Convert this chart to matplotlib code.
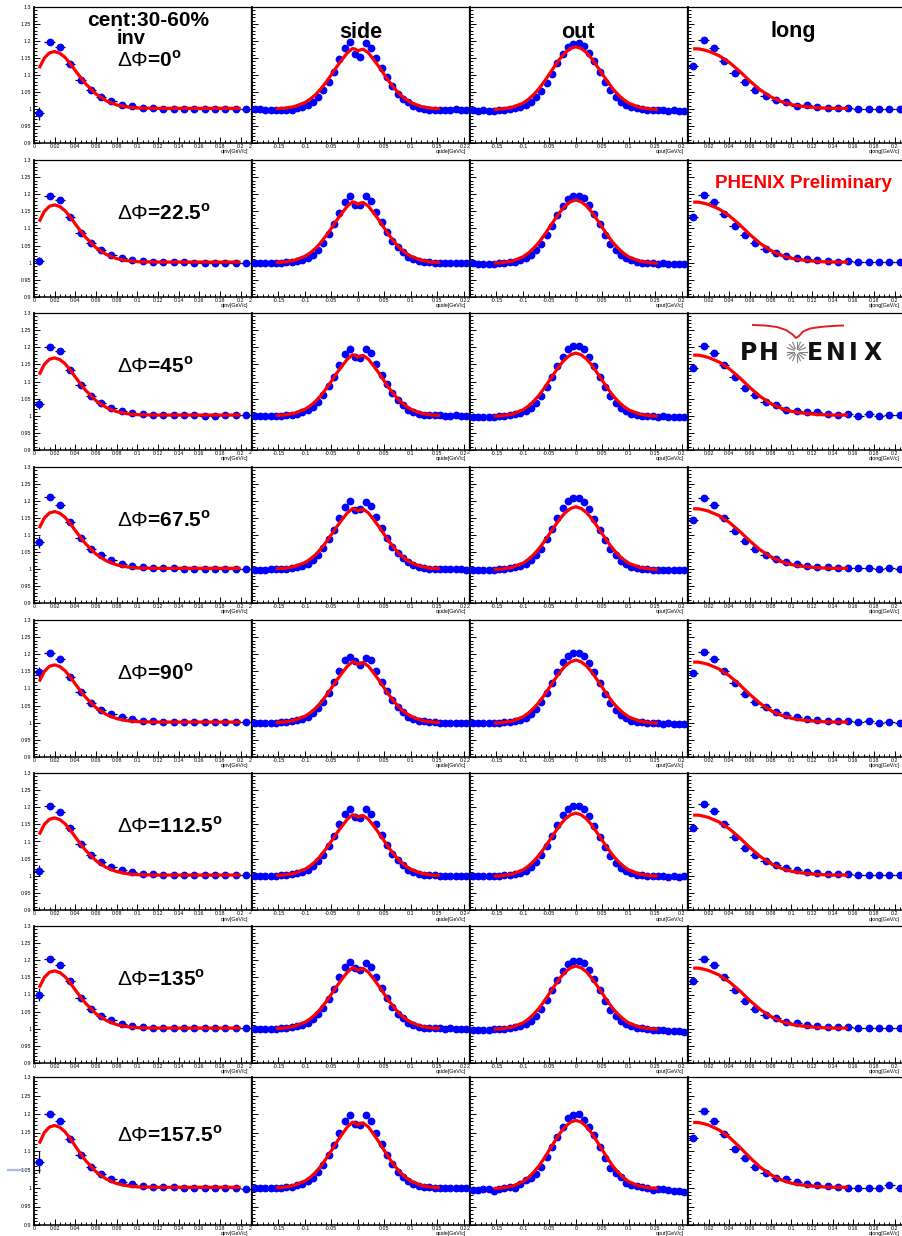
import matplotlib
matplotlib.use('Agg')
import matplotlib.pyplot as plt
from matplotlib.ticker import MultipleLocator, FixedLocator, NullFormatter
from matplotlib.lines import Line2D
import math

plt.rcParams['font.family'] = ['Liberation Sans', 'DejaVu Sans']
plt.rcParams['mathtext.fontset'] = 'custom'
plt.rcParams['mathtext.rm'] = 'Liberation Sans'
plt.rcParams['mathtext.bf'] = 'Liberation Sans:bold'

# ---------------- data ----------------
dphi_labels = ['0', '22.5', '45', '67.5', '90', '112.5', '135', '157.5']
col_names = ['inv', 'side', 'out', 'long']
x_titles = ['qinv[GeV/c]', 'qside[GeV/c]', 'qout[GeV/c]', 'qlong[GeV/c]']

q_pos = [0.005, 0.015, 0.025, 0.035, 0.045, 0.055, 0.065, 0.075, 0.085, 0.095, 0.105,
         0.115, 0.125, 0.135, 0.145, 0.155, 0.165, 0.175, 0.185, 0.195, 0.205]
q_sym = [-0.195, -0.185, -0.175, -0.165, -0.155, -0.145, -0.135, -0.125, -0.115, -0.105,
         -0.095, -0.085, -0.075, -0.065, -0.055, -0.045, -0.035, -0.025, -0.015, -0.005,
         0.005, 0.015, 0.025, 0.035, 0.045, 0.055, 0.065, 0.075, 0.085, 0.095, 0.105,
         0.115, 0.125, 0.135, 0.145, 0.155, 0.165, 0.175, 0.185, 0.195, 0.205]
bin_half_width = 0.005

inv_rows = [
    [0.987, 1.196, 1.181, 1.132, 1.085, 1.056, 1.036, 1.024, 1.013, 1.008, 1.004, 1.002, 1.001, 1.001, 1.000, 1.000, 1.000, 1.000, 1.001, 1.001, 1.001],
    [1.005, 1.194, 1.182, 1.133, 1.088, 1.058, 1.036, 1.023, 1.014, 1.008, 1.005, 1.003, 1.002, 1.001, 1.001, 1.000, 1.000, 1.000, 1.000, 1.000, 1.000],
    [1.035, 1.200, 1.188, 1.135, 1.090, 1.058, 1.038, 1.024, 1.015, 1.009, 1.005, 1.003, 1.002, 1.001, 1.001, 1.001, 1.000, 1.000, 1.001, 1.001, 1.001],
    [1.080, 1.212, 1.188, 1.138, 1.092, 1.060, 1.040, 1.027, 1.016, 1.010, 1.006, 1.004, 1.002, 1.002, 1.001, 1.001, 1.001, 1.000, 1.001, 1.001, 1.001],
    [1.147, 1.205, 1.185, 1.135, 1.090, 1.058, 1.038, 1.025, 1.016, 1.010, 1.006, 1.004, 1.002, 1.002, 1.001, 1.001, 1.001, 1.001, 1.001, 1.001, 1.001],
    [1.015, 1.203, 1.185, 1.138, 1.092, 1.060, 1.040, 1.026, 1.016, 1.010, 1.006, 1.004, 1.003, 1.002, 1.002, 1.001, 1.001, 1.001, 1.001, 1.001, 1.001],
    [1.100, 1.205, 1.185, 1.138, 1.090, 1.058, 1.038, 1.025, 1.015, 1.009, 1.005, 1.003, 1.002, 1.001, 1.001, 1.001, 1.001, 1.001, 1.001, 1.001, 1.001],
    [1.070, 1.200, 1.182, 1.132, 1.088, 1.057, 1.037, 1.024, 1.016, 1.010, 1.006, 1.004, 1.003, 1.002, 1.001, 1.001, 1.000, 1.001, 1.001, 1.001, 0.998],
]
inv_first_err = [0.020, 0.012, 0.015, 0.018, 0.015, 0.015, 0.018, 0.030]
inv_err_rest = [0.004, 0.003, 0.003, 0.003, 0.002, 0.002, 0.002, 0.002, 0.002, 0.002,
                0.002, 0.002, 0.002, 0.002, 0.002, 0.002, 0.002, 0.002, 0.002, 0.002]

side_rows = [
    [1.000, 1.000, 0.998, 0.998, 0.998, 0.996, 0.996, 0.998, 1.002, 1.006, 1.012, 1.022, 1.035, 1.055, 1.080, 1.110, 1.148, 1.178, 1.196, 1.162,
     1.152, 1.194, 1.178, 1.150, 1.122, 1.095, 1.068, 1.045, 1.030, 1.020, 1.010, 1.004, 1.000, 0.998, 0.997, 0.997, 0.998, 0.998, 0.999, 0.998, 0.996],
    [0.999, 0.998, 0.998, 0.999, 1.000, 1.000, 1.002, 1.003, 1.005, 1.008, 1.014, 1.024, 1.038, 1.058, 1.084, 1.112, 1.146, 1.176, 1.195, 1.170,
     1.168, 1.196, 1.180, 1.148, 1.118, 1.090, 1.064, 1.045, 1.030, 1.018, 1.010, 1.005, 1.002, 1.001, 1.000, 1.000, 0.999, 1.000, 1.000, 0.999, 0.999],
    [0.999, 0.999, 0.998, 0.999, 1.000, 1.000, 1.001, 1.003, 1.006, 1.010, 1.016, 1.026, 1.040, 1.060, 1.086, 1.114, 1.148, 1.180, 1.196, 1.172,
     1.170, 1.195, 1.182, 1.150, 1.118, 1.092, 1.066, 1.046, 1.030, 1.018, 1.010, 1.005, 1.003, 1.002, 1.001, 1.001, 1.000, 1.000, 1.001, 1.000, 0.999],
    [0.998, 0.998, 0.998, 0.999, 1.000, 0.999, 1.001, 1.003, 1.006, 1.010, 1.016, 1.026, 1.040, 1.062, 1.088, 1.116, 1.150, 1.182, 1.200, 1.175,
     1.176, 1.198, 1.184, 1.152, 1.120, 1.092, 1.066, 1.046, 1.031, 1.020, 1.012, 1.006, 1.003, 1.001, 1.000, 1.000, 0.999, 0.999, 1.000, 0.999, 0.998],
    [0.998, 0.999, 0.999, 0.999, 1.000, 1.001, 1.002, 1.004, 1.007, 1.011, 1.018, 1.028, 1.042, 1.062, 1.088, 1.118, 1.152, 1.182, 1.192, 1.180,
     1.170, 1.190, 1.182, 1.152, 1.120, 1.092, 1.066, 1.046, 1.030, 1.018, 1.010, 1.006, 1.004, 1.002, 1.001, 1.000, 1.000, 0.999, 0.999, 0.998, 0.998],
    [1.000, 1.000, 0.999, 1.000, 1.000, 1.001, 1.002, 1.004, 1.007, 1.011, 1.018, 1.028, 1.042, 1.062, 1.088, 1.116, 1.150, 1.180, 1.196, 1.172,
     1.170, 1.196, 1.180, 1.150, 1.118, 1.090, 1.064, 1.046, 1.030, 1.018, 1.010, 1.006, 1.003, 1.002, 1.001, 1.000, 1.000, 0.999, 0.999, 0.999, 0.999],
    [0.999, 0.999, 0.999, 1.000, 1.000, 1.001, 1.002, 1.004, 1.007, 1.011, 1.018, 1.028, 1.042, 1.062, 1.088, 1.116, 1.150, 1.180, 1.194, 1.176,
     1.172, 1.192, 1.180, 1.150, 1.118, 1.090, 1.064, 1.044, 1.030, 1.018, 1.010, 1.005, 1.003, 1.002, 1.001, 1.003, 1.000, 1.002, 1.000, 0.999, 0.999],
    [1.001, 1.001, 1.000, 1.000, 1.000, 1.001, 1.002, 1.004, 1.007, 1.011, 1.018, 1.028, 1.042, 1.062, 1.088, 1.116, 1.150, 1.180, 1.196, 1.172,
     1.170, 1.196, 1.180, 1.150, 1.118, 1.090, 1.064, 1.044, 1.030, 1.018, 1.010, 1.005, 1.003, 1.002, 1.001, 1.000, 1.000, 1.001, 1.001, 1.000, 1.000],
]

out_rows = [
    [0.996, 0.995, 0.996, 0.994, 0.995, 0.997, 0.998, 1.000, 1.002, 1.006, 1.012, 1.020, 1.034, 1.052, 1.076, 1.104, 1.134, 1.162, 1.182, 1.192,
     1.194, 1.186, 1.166, 1.140, 1.110, 1.080, 1.055, 1.036, 1.022, 1.012, 1.006, 1.002, 1.000, 0.998, 0.997, 0.996, 0.996, 0.995, 0.996, 0.995, 0.994],
    [0.998, 0.997, 0.996, 0.997, 0.996, 0.998, 0.999, 1.001, 1.003, 1.007, 1.013, 1.022, 1.036, 1.055, 1.080, 1.108, 1.138, 1.166, 1.186, 1.196,
     1.196, 1.188, 1.168, 1.142, 1.112, 1.082, 1.056, 1.038, 1.024, 1.014, 1.007, 1.003, 1.000, 0.999, 0.998, 0.997, 0.998, 0.996, 0.997, 0.996, 0.996],
    [0.997, 0.996, 0.996, 0.995, 0.996, 0.998, 1.000, 1.002, 1.004, 1.008, 1.014, 1.024, 1.038, 1.058, 1.084, 1.112, 1.144, 1.172, 1.194, 1.205,
     1.203, 1.194, 1.172, 1.146, 1.114, 1.084, 1.058, 1.038, 1.024, 1.013, 1.006, 1.002, 1.000, 0.999, 0.998, 0.997, 0.998, 0.997, 0.996, 0.997, 0.997],
    [0.998, 0.997, 0.997, 0.996, 0.998, 0.999, 1.000, 1.002, 1.005, 1.009, 1.016, 1.026, 1.040, 1.060, 1.088, 1.118, 1.150, 1.178, 1.200, 1.210,
     1.210, 1.198, 1.176, 1.148, 1.116, 1.086, 1.060, 1.040, 1.025, 1.014, 1.007, 1.003, 1.001, 0.999, 0.998, 0.998, 0.997, 0.997, 0.997, 0.996, 0.996],
    [0.999, 0.999, 0.999, 0.998, 0.999, 1.000, 1.001, 1.002, 1.004, 1.008, 1.015, 1.025, 1.040, 1.060, 1.086, 1.116, 1.148, 1.176, 1.196, 1.205,
     1.204, 1.196, 1.175, 1.148, 1.116, 1.085, 1.058, 1.038, 1.024, 1.013, 1.006, 1.003, 1.001, 0.999, 0.998, 0.998, 0.997, 0.998, 0.997, 0.997, 0.997],
    [1.000, 0.999, 0.999, 1.000, 0.999, 1.000, 1.001, 1.003, 1.005, 1.009, 1.015, 1.025, 1.040, 1.060, 1.086, 1.116, 1.148, 1.176, 1.196, 1.204,
     1.203, 1.195, 1.174, 1.146, 1.114, 1.084, 1.058, 1.038, 1.024, 1.014, 1.007, 1.003, 1.002, 1.000, 0.999, 0.998, 0.998, 0.997, 0.998, 0.997, 0.998],
    [0.997, 0.996, 0.997, 0.996, 0.998, 0.999, 1.000, 1.002, 1.004, 1.008, 1.014, 1.024, 1.038, 1.058, 1.084, 1.112, 1.142, 1.170, 1.190, 1.198,
     1.198, 1.192, 1.172, 1.144, 1.112, 1.082, 1.056, 1.038, 1.024, 1.014, 1.007, 1.003, 1.001, 0.999, 0.997, 0.996, 0.995, 0.994, 0.993, 0.992, 0.991],
    [0.995, 0.994, 0.996, 0.998, 0.992, 0.998, 1.000, 1.003, 1.000, 1.010, 1.021, 1.027, 1.039, 1.058, 1.083, 1.110, 1.139, 1.164, 1.189, 1.197,
     1.200, 1.184, 1.164, 1.144, 1.110, 1.082, 1.055, 1.041, 1.030, 1.014, 1.007, 1.005, 1.003, 1.001, 0.994, 0.996, 0.996, 0.994, 0.992, 0.991, 0.990],
]

long_rows = [
    [1.127, 1.203, 1.179, 1.141, 1.107, 1.078, 1.056, 1.038, 1.026, 1.021, 1.008, 1.013, 1.006, 1.004, 1.003, 1.004, 1.001, 1.000, 1.001, 1.000, 1.000],
    [1.135, 1.198, 1.178, 1.142, 1.108, 1.080, 1.058, 1.040, 1.028, 1.020, 1.014, 1.010, 1.007, 1.005, 1.003, 1.004, 1.002, 1.003, 1.001, 1.002, 1.001],
    [1.140, 1.205, 1.182, 1.148, 1.112, 1.082, 1.060, 1.041, 1.030, 1.018, 1.015, 1.010, 1.010, 1.005, 1.003, 1.006, 1.000, 1.004, 1.000, 1.001, 1.001],
    [1.145, 1.210, 1.188, 1.150, 1.113, 1.082, 1.060, 1.042, 1.030, 1.022, 1.014, 1.010, 1.007, 1.005, 1.004, 1.004, 1.003, 1.002, 1.001, 1.002, 1.000],
    [1.145, 1.208, 1.185, 1.150, 1.115, 1.085, 1.062, 1.045, 1.032, 1.022, 1.016, 1.012, 1.008, 1.006, 1.004, 1.005, 1.002, 1.006, 1.000, 1.003, 1.000],
    [1.140, 1.210, 1.190, 1.150, 1.112, 1.082, 1.060, 1.043, 1.030, 1.022, 1.016, 1.011, 1.007, 1.005, 1.004, 1.004, 1.003, 1.002, 1.002, 1.002, 1.001],
    [1.140, 1.205, 1.185, 1.150, 1.112, 1.080, 1.058, 1.040, 1.030, 1.020, 1.016, 1.010, 1.008, 1.006, 1.004, 1.004, 1.003, 1.002, 1.001, 1.002, 1.002],
    [1.135, 1.207, 1.180, 1.146, 1.106, 1.082, 1.058, 1.040, 1.028, 1.023, 1.016, 1.012, 1.009, 1.005, 1.003, 1.001, 1.000, 1.000, 1.000, 1.009, 1.000],
]
small_err = 0.003

# fit curves
inv_fit_q = [0.005, 0.01, 0.015, 0.02, 0.025, 0.03, 0.035, 0.04, 0.045, 0.05, 0.06, 0.07, 0.08, 0.09, 0.1, 0.12, 0.15, 0.2]
inv_fit = [1.120, 1.150, 1.165, 1.169, 1.164, 1.152, 1.134, 1.113, 1.093, 1.074, 1.044, 1.024, 1.012, 1.006, 1.003, 1.002, 1.002, 1.002]
side_fit_q = [-0.155, -0.14, -0.12, -0.1, -0.09, -0.08, -0.07, -0.06, -0.05, -0.04, -0.03, -0.02, -0.01, -0.005, 0, 0.005, 0.01,
              0.02, 0.03, 0.04, 0.05, 0.06, 0.07, 0.08, 0.09, 0.1, 0.12, 0.14, 0.155]
side_fit = [1.001, 1.002, 1.007, 1.019, 1.029, 1.042, 1.059, 1.079, 1.101, 1.124, 1.145, 1.165, 1.178, 1.176, 1.171, 1.174, 1.176,
            1.165, 1.145, 1.124, 1.101, 1.079, 1.059, 1.042, 1.029, 1.019, 1.007, 1.002, 1.001]
out_fit_q = [-0.155, -0.14, -0.12, -0.1, -0.09, -0.08, -0.07, -0.06, -0.05, -0.04, -0.03, -0.02, -0.01, 0, 0.01,
             0.02, 0.03, 0.04, 0.05, 0.06, 0.07, 0.08, 0.09, 0.1, 0.12, 0.14, 0.155]
out_fit = [0.999, 1.000, 1.005, 1.017, 1.028, 1.042, 1.059, 1.080, 1.103, 1.126, 1.148, 1.166, 1.178, 1.183, 1.178,
           1.166, 1.148, 1.126, 1.103, 1.080, 1.059, 1.042, 1.028, 1.017, 1.005, 1.000, 0.999]
long_fit_q = [0.005, 0.01, 0.015, 0.02, 0.03, 0.04, 0.05, 0.06, 0.07, 0.08, 0.09, 0.1, 0.11, 0.12, 0.13, 0.14, 0.155]
long_fit = [1.177, 1.177, 1.174, 1.170, 1.157, 1.137, 1.111, 1.082, 1.056, 1.036, 1.022, 1.013, 1.008, 1.005, 1.003, 1.002, 1.002]

y_ticks = [0.9, 0.95, 1.0, 1.05, 1.1, 1.15, 1.2, 1.25, 1.3]
y_ticklabels = ['0.9', '0.95', '1', '1.05', '1.1', '1.15', '1.2', '1.25', '1.3']
pos_ticks = [0, 0.02, 0.04, 0.06, 0.08, 0.1, 0.12, 0.14, 0.16, 0.18, 0.2]
pos_ticklabels = ['0', '0.02', '0.04', '0.06', '0.08', '0.1', '0.12', '0.14', '0.16', '0.18', '0.2']
sym_ticks = [-0.2, -0.15, -0.1, -0.05, 0, 0.05, 0.1, 0.15, 0.2]
sym_ticklabels = ['', '-0.15', '-0.1', '-0.05', '0', '0.05', '0.1', '0.15', '0.2']

# ---------------- layout (pixels) ----------------
W, H = 902, 1236
col_left = [34, 252, 470, 688]
col_right = [251, 469, 687, 905]
row_top = [7, 160, 313, 467, 620, 773, 926, 1077]
row_bot = [143, 297, 450, 603, 757, 910, 1063, 1225]

fig = plt.figure(figsize=(W / 100, H / 100), dpi=100)


def fx(px):
    return px / W


def fy(py):
    return 1 - py / H


data_cols = [inv_rows, side_rows, out_rows, long_rows]
fits = [(inv_fit_q, inv_fit), (side_fit_q, side_fit), (out_fit_q, out_fit), (long_fit_q, long_fit)]

for r in range(8):
    for c in range(4):
        l, rr = col_left[c], col_right[c]
        t, b = row_top[r], row_bot[r]
        ax = fig.add_axes([fx(l), fy(b), (rr - l) / W, (b - t) / H])
        ax.set_facecolor('white')
        for s in ax.spines.values():
            s.set_linewidth(0.9)
            s.set_color('black')
        ax.spines['left'].set_linewidth(1.3)
        ax.spines['bottom'].set_linewidth(1.1)
        ax.set_ylim(0.9, 1.3)
        ax.yaxis.set_major_locator(FixedLocator(y_ticks))
        ax.yaxis.set_minor_locator(MultipleLocator(0.01))
        if c == 0:
            ax.set_yticklabels(y_ticklabels)
        else:
            ax.yaxis.set_major_formatter(NullFormatter())
        if c in (0, 3):
            q = q_pos
            ax.set_xlim(0, 0.21)
            ax.xaxis.set_major_locator(FixedLocator(pos_ticks))
            labs = list(pos_ticklabels)
            if c == 3:
                labs[0] = ''
            ax.set_xticklabels(labs)
            ax.xaxis.set_minor_locator(MultipleLocator(0.005))
        else:
            q = q_sym
            ax.set_xlim(-0.2, 0.21)
            ax.xaxis.set_major_locator(FixedLocator(sym_ticks))
            ax.set_xticklabels(sym_ticklabels)
            ax.xaxis.set_minor_locator(MultipleLocator(0.01))
        ax.tick_params(axis='both', which='both', direction='in', top=False, right=False,
                       labelsize=3.8, width=0.7, colors='black')
        ax.tick_params(axis='both', which='major', length=4.5)
        ax.tick_params(axis='both', which='minor', length=2.2)
        ax.tick_params(axis='x', pad=0.6)
        ax.tick_params(axis='y', pad=2.0)

        vals = data_cols[c][r]
        if c == 0:
            yerr = [inv_first_err[r]] + inv_err_rest
        else:
            yerr = [small_err] * len(vals)
        ax.errorbar(q, vals, xerr=bin_half_width, yerr=yerr, fmt='none', ecolor='black',
                    elinewidth=0.9, capsize=0, zorder=2)
        ax.plot(q, vals, 'o', color='#0000ff', mec='#0000ff', ms=4.6, zorder=3)
        fq, fv = fits[c]
        ax.plot(fq, fv, '-', color='#ff0000', lw=2.3, zorder=4, solid_capstyle='butt')

        # x axis title
        fig.text(fx(rr - 3 if c < 3 else 900), fy(b + 9), x_titles[c], fontsize=3.8, ha='right', va='center')
        # fragment of the hidden '-0.2' label
        if c in (1, 2):
            fig.text(fx(l - 0.5), fy(b + 3), '2', fontsize=3.8, ha='right', va='center')

    # delta phi label
    base = row_top[r] + (60 if r < 7 else 65)
    fig.text(fx(117), fy(base), r'$\Delta\Phi$=' + dphi_labels[r] + r'$^{\mathbf{o}}$', fontsize=15,
             fontweight='bold', va='baseline', ha='left')

# column titles
fig.text(fx(148), fy(26), 'cent:30-60%', fontsize=15, fontweight='bold', ha='center', va='baseline')
fig.text(fx(117), fy(44.5), 'inv', fontsize=14.5, fontweight='bold', ha='left', va='baseline')
fig.text(fx(361), fy(38), 'side', fontsize=15.5, fontweight='bold', ha='center', va='baseline')
fig.text(fx(578), fy(38), 'out', fontsize=15.5, fontweight='bold', ha='center', va='baseline')
fig.text(fx(793), fy(37), 'long', fontsize=15.5, fontweight='bold', ha='center', va='baseline')

# PHENIX Preliminary
fig.text(fx(803), fy(188), 'PHENIX Preliminary', fontsize=13.5, fontweight='bold', color='#ff0000',
         ha='center', va='baseline')

# PHENIX logo (row 3, long column)
logo_letters = ['P', 'H', 'E', 'N', 'I', 'X']
logo_x = [740, 758.5, 807, 825.5, 848.5, 864]
for ch, lx in zip(logo_letters, logo_x):
    fig.text(fx(lx), fy(360), ch, fontsize=17, fontweight='bold', family='DejaVu Sans',
             ha='left', va='baseline', color='#111111')
cx, cy = 796.5, 351.5
for k in range(16):
    a = k * math.pi / 8
    fig.add_artist(Line2D([fx(cx + 3 * math.cos(a)), fx(cx + 10 * math.cos(a))],
                          [fy(cy + 3 * math.sin(a)), fy(cy + 10 * math.sin(a))],
                          color='#808080', lw=0.8))
swoosh_x = [753, 765, 777, 786, 792, 796, 799, 803, 810, 820, 832, 843]
swoosh_y = [325, 325.5, 327, 330, 334, 338, 336, 331.5, 328.5, 327, 326, 325.5]
fig.add_artist(Line2D([fx(v) for v in swoosh_x], [fy(v) for v in swoosh_y], color='#e02020', lw=1.4))

# small stray dash on the left margin
fig.add_artist(Line2D([fx(8), fx(25)], [fy(1170), fy(1170)], color='#a9bcd6', lw=1.6))

fig.savefig('out.png', dpi=100, facecolor='white')
